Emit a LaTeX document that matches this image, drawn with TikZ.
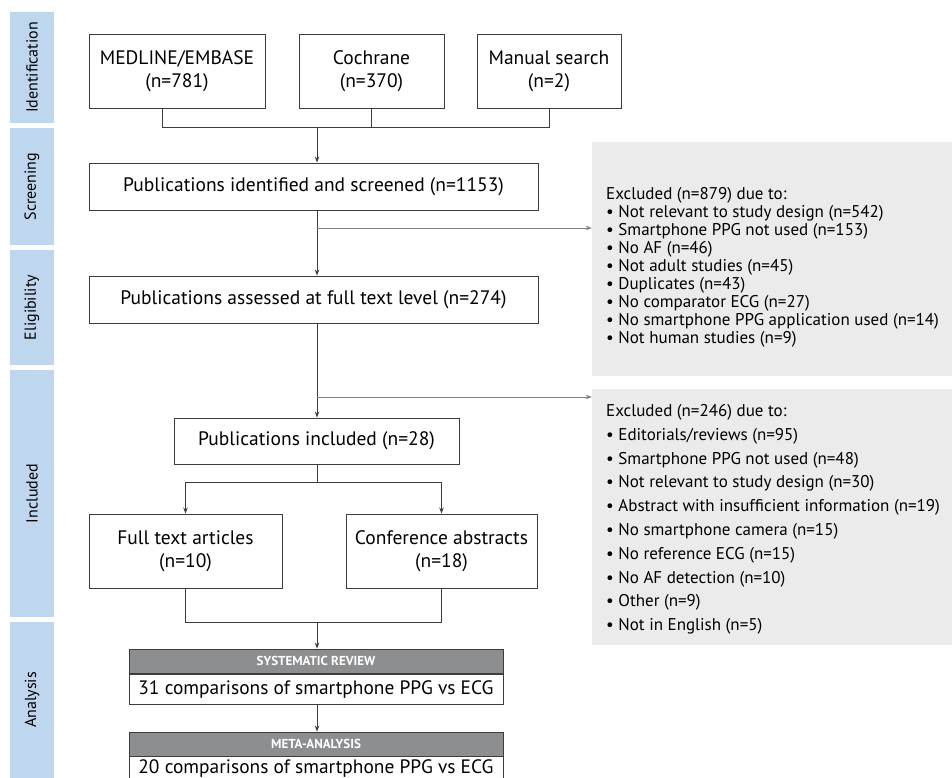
\documentclass[tikz,border=0pt]{standalone}
\usepackage{fontspec}
\setmainfont{PT Sans}
\usetikzlibrary{arrows.meta}
\definecolor{bandblue}{RGB}{190,215,238}
\definecolor{exgray}{RGB}{235,235,236}
\definecolor{headgray}{RGB}{141,142,144}
\definecolor{linegray}{RGB}{60,60,60}
\definecolor{arrowgray}{RGB}{128,128,128}

\begin{document}
\begin{tikzpicture}[x=1pt, y=-1pt,
    box/.style={rectangle, draw=linegray, line width=0.9pt, align=center, inner sep=0pt,
      font=\fontsize{19.5}{23}\selectfont},
    band/.style={rectangle, fill=bandblue, minimum width=44pt, inner sep=0pt,
      font=\fontsize{16}{18}\selectfont},
    exbox/.style={rectangle, fill=exgray, minimum width=360pt, inner sep=0pt},
    extext/.style={align=left, anchor=west, inner sep=0pt},
    head/.style={rectangle, fill=headgray, draw=linegray, line width=0.9pt, minimum width=374pt,
      minimum height=24pt, inner sep=0pt, text=white, font=\fontsize{13}{13}\bfseries\selectfont},
    result/.style={box, minimum width=374pt, minimum height=30pt, anchor=base,
      text height=14pt, text depth=4pt, font=\fontsize{19.4}{23}\selectfont},
    link/.style={draw=linegray, line width=0.9pt},
    arr/.style={link, -{Stealth[length=6pt,width=4.5pt]}},
    exarr/.style={draw=arrowgray, line width=0.9pt, -{Stealth[length=6pt,width=4.5pt]}}
    ]
    \clip (0,0) rectangle (952,778);

    \node[band, minimum height=111pt] (idband) at (32,67.5) {\rotatebox{90}{Identification}};
    \node[band, minimum height=117pt] (scrband) at (32,186.5) {\rotatebox{90}{Screening}};
    \node[band, minimum height=115pt] (eliband) at (32,307.5) {\rotatebox{90}{Eligibility}};
    \node[band, minimum height=247pt] (incband) at (32,493.5) {\rotatebox{90}{Included}};
    \node[band, minimum height=156pt] (anaband) at (32,700) {\rotatebox{90}{Analysis}};

    \node[box, minimum width=176pt, minimum height=74pt] (medline) at (177,71) {MEDLINE/EMBASE\\(n=781)};
    \node[box, minimum width=145pt, minimum height=74pt] (cochrane) at (371.5,71) {Cochrane\\(n=370)};
    \node[box, minimum width=144pt, minimum height=74pt] (manual) at (549,71) {Manual search\\(n=2)};
    \coordinate (join) at (317,127);
    \draw[link] ([xshift=-15pt]medline.south) |- (manual.south |- join) -- (manual.south);
    \draw[link] (cochrane.south) -- (cochrane.south |- join);

    \node[box, minimum width=449pt, minimum height=47pt] (screened) at (313.5,186.5) {Publications identified and screened (n=1153)};
    \node[box, minimum width=449pt, minimum height=47pt] (assessed) at (313.5,299.5) {Publications assessed at full text level (n=274)};
    \node[box, minimum width=285pt, minimum height=46pt] (included) at (316.5,441) {Publications included (n=28)};
    \draw[arr] (join) -- (join |- screened.north);
    \draw[arr] (join |- screened.south) -- (join |- assessed.north);
    \draw[arr] (join |- assessed.south) -- (join |- included.north);

    \node[exbox, minimum height=234pt] (ex1) at (772,259) {};
    \node[extext, font=\fontsize{17}{18}\selectfont] (ex1list) at (606,267) {Excluded (n=879) due to:\\
      • Not relevant to study design (n=542)\\
      • Smartphone PPG not used (n=153)\\
      • No AF (n=46)\\
      • Not adult studies (n=45)\\
      • Duplicates (n=43)\\
      • No comparator ECG (n=27)\\
      • No smartphone PPG application used (n=14)\\
      • Not human studies (n=9)};
    \node[exbox, minimum height=256pt] (ex2) at (772,517) {};
    \node[extext, font=\fontsize{17}{23.8}\selectfont] (ex2list) at (606,519.5) {Excluded (n=246) due to:\\
      • Editorials/reviews (n=95)\\
      • Smartphone PPG not used (n=48)\\
      • Not relevant to study design (n=30)\\
      • Abstract with insufficient information (n=19)\\
      • No smartphone camera (n=15)\\
      • No reference ECG (n=15)\\
      • No AF detection (n=10)\\
      • Other (n=9)\\
      • Not in English (n=5)};
    \coordinate (exit1) at (317,228);
    \coordinate (exit2) at (317,397);
    \draw[exarr] (exit1) -- (exit1 -| ex1.west);
    \draw[exarr] (exit2) -- (exit2 -| ex2.west);

    \node[box, minimum width=193pt, minimum height=74pt] (fulltext) at (185.5,551) {Full text articles\\(n=10)};
    \node[box, minimum width=191pt, minimum height=74pt] (conf) at (441.5,551) {Conference abstracts\\(n=18)};
    \coordinate (split) at (317,482);
    \draw[link] (split |- included.south) -- (split);
    \draw[arr] (split) -| (fulltext.north);
    \draw[arr] (split) -| (conf.north);

    \node[result] (srbody) at (316,694) {31 comparisons of smartphone PPG vs ECG};
    \node[head] (srhead) at (316,661) {SYSTEMATIC REVIEW};
    \node[result] (mabody) at (316,773) {20 comparisons of smartphone PPG vs ECG};
    \node[head] (mahead) at (316,744) {META-ANALYSIS};
    \coordinate (merge) at (317,622);
    \draw[link] (fulltext.south) |- (merge);
    \draw[link] (conf.south) |- (merge);
    \draw[arr] (merge) -- (merge |- srhead.north);
    \draw[arr] (merge |- srbody.south) -- (merge |- mahead.north);
\end{tikzpicture}
\end{document}
